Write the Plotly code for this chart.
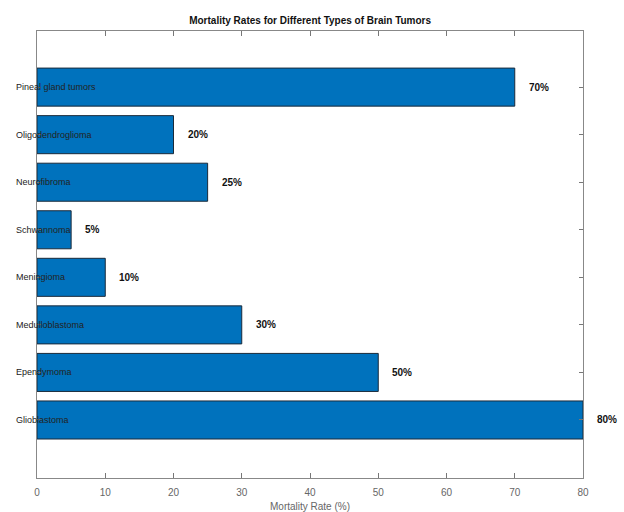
import plotly.graph_objects as go

categories = ["Glioblastoma", "Ependymoma", "Medulloblastoma", "Meningioma",
              "Schwannoma", "Neurofibroma", "Oligodendroglioma", "Pineal gland tumors"]
mortality = [80, 50, 30, 10, 5, 25, 20, 70]
value_labels = [f"{v}%" for v in mortality]
x_ticks = [0, 10, 20, 30, 40, 50, 60, 70, 80]

FONT = "Liberation Sans, Arial, sans-serif"

fig = go.Figure()
fig.add_trace(go.Bar(
    x=mortality, y=categories, orientation="h",
    marker=dict(color="#0072BD", line=dict(color="#1a2a3a", width=1)),
    width=0.8, showlegend=False, hoverinfo="x+y", cliponaxis=False,
))

annotations = []
for c, v, t in zip(categories, mortality, value_labels):
    annotations.append(dict(x=v, y=c, xref="x", yref="y", text=f"<b>{t}</b>",
                            showarrow=False, xanchor="left", xshift=12,
                            font=dict(family=FONT, size=10, color="#111")))
    annotations.append(dict(x=-0.042, y=c, xref="paper", yref="y", text=c,
                            showarrow=False, xanchor="left",
                            font=dict(family=FONT, size=9, color="#222")))

fig.update_layout(
    width=624, height=512,
    margin=dict(l=37, r=41, t=31, b=34, autoexpand=False),
    paper_bgcolor="white", plot_bgcolor="white",
    title=dict(text="<b>Mortality Rates for Different Types of Brain Tumors</b>",
               x=0.497, xanchor="center", y=0.96, yanchor="middle",
               font=dict(family=FONT, size=10, color="#111")),
    annotations=annotations,
    bargap=0.2,
)
fig.update_xaxes(
    range=[0, 80], tickvals=x_ticks, ticks="inside", ticklen=5, tickcolor="#777",
    showline=True, linecolor="#888", linewidth=1, mirror="ticks", showgrid=False,
    zeroline=False, ticklabelstandoff=5, automargin=False,
    tickfont=dict(family=FONT, size=10, color="#666"),
    title=dict(text="Mortality Rate (%)", standoff=6,
               font=dict(family=FONT, size=10, color="#666")),
)
fig.update_yaxes(
    categoryorder="array", categoryarray=categories, range=[-1.22, 8.18],
    showticklabels=False, ticks="inside", ticklen=4, tickcolor="#777",
    showline=True, linecolor="#888", linewidth=1, mirror="ticks", showgrid=False,
    automargin=False,
)

fig.write_html("out.html")
